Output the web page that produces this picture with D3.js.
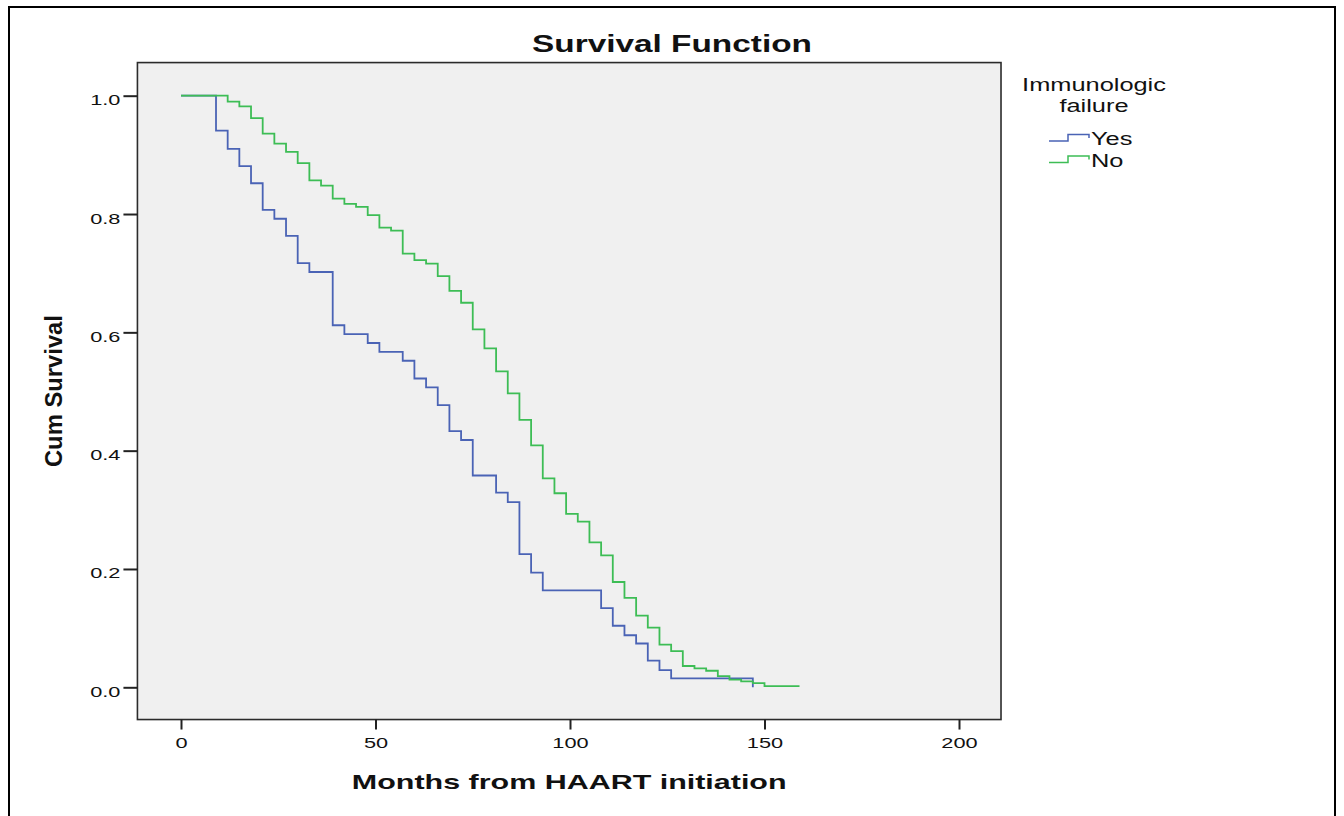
<html lang="en">
<head>
    <meta charset="UTF-8">
    <title>Survival Function</title>
    <script src="https://cdnjs.cloudflare.com/ajax/libs/d3/7.8.5/d3.min.js"></script>
    <style type="text/css">
        body { margin: 0; background: #ffffff; }
        text { font-family: "Liberation Sans", Arial, sans-serif; fill: #111; }
    </style>
</head>
<body>
    <div id="onlydiv"></div>
    <script type="text/javascript">

        // Kaplan-Meier steps (months, cum survival)
        var yesTime = [0, 9, 12, 15, 18, 21, 24, 27, 30, 33, 39, 42, 48, 51, 57, 60, 63, 66, 69, 72, 75, 81, 84, 87, 90, 93, 108, 111, 114, 117, 120, 123, 126, 147];
        var yesSurv = [1.0, 0.941, 0.910, 0.881, 0.852, 0.807, 0.792, 0.763, 0.717, 0.702, 0.612, 0.597, 0.582, 0.567, 0.552, 0.522, 0.507, 0.477, 0.433, 0.418, 0.358, 0.329, 0.313, 0.225, 0.194, 0.164, 0.134, 0.104, 0.088, 0.074, 0.045, 0.029, 0.015, 0.0];

        var noTime = [0, 12, 15, 18, 21, 24, 27, 30, 33, 36, 39, 42, 45, 48, 51, 54, 57, 60, 63, 66, 69, 72, 75, 78, 81, 84, 87, 90, 93, 96, 99, 102, 105, 108, 111, 114, 117, 120, 123, 126, 129, 132, 135, 138, 141, 144, 147, 150, 159];
        var noSurv = [1.0, 0.990, 0.982, 0.962, 0.936, 0.919, 0.905, 0.886, 0.857, 0.848, 0.826, 0.817, 0.812, 0.798, 0.777, 0.772, 0.733, 0.722, 0.716, 0.695, 0.670, 0.650, 0.605, 0.573, 0.534, 0.497, 0.452, 0.409, 0.353, 0.328, 0.293, 0.280, 0.245, 0.223, 0.178, 0.151, 0.121, 0.101, 0.072, 0.061, 0.036, 0.032, 0.028, 0.019, 0.013, 0.010, 0.007, 0.002, 0.002];

        var groups = ["Yes", "No"];
        var groupColors = ["#4a63b5", "#3dbd55"];
        var xTicks = [0, 50, 100, 150, 200];
        var yTicks = [0.0, 0.2, 0.4, 0.6, 0.8, 1.0];

        // Size variables
        var w = 1344;
        var h = 816;
        var SX = 1.45;   // the picture is stretched sideways, so is the text

        var svg = d3.select("#onlydiv")
        .append("svg")
        .attr("width", w)
        .attr("height", h);

        function stretch(sel) {
            sel.each(function() {
                var n = this.getComputedTextLength();
                d3.select(this)
                .attr("textLength", n * SX)
                .attr("lengthAdjust", "spacingAndGlyphs");
            });
        }

        // outer frame
        svg.append("rect")
        .attr("x", 9)
        .attr("y", 7)
        .attr("width", 1326)
        .attr("height", 830)
        .attr("fill", "none")
        .attr("stroke", "#000")
        .attr("stroke-width", 2);

        // scales
        var xScale = d3.scaleLinear()
        .domain([0, 200])
        .range([181, 959]);

        var yScale = d3.scaleLinear()
        .domain([0, 1])
        .range([687.3, 95.7]);

        var plotLeft = xScale(-11.2), plotRight = xScale(210.8);
        var plotTop = yScale(1.056), plotBottom = yScale(-0.0545);

        // plot background
        svg.append("rect")
        .attr("x", plotLeft)
        .attr("y", plotTop)
        .attr("width", plotRight - plotLeft)
        .attr("height", plotBottom - plotTop)
        .attr("fill", "#f0f0f0")
        .attr("stroke", "#2b2b2b")
        .attr("stroke-width", 1.6);

        // axes
        var yAxis = d3.axisLeft(yScale)
        .tickValues(yTicks)
        .tickFormat(d3.format(".1f"))
        .tickSize(14)
        .tickPadding(3);

        var xAxis = d3.axisBottom(xScale)
        .tickValues(xTicks)
        .tickSize(10)
        .tickPadding(8);

        var gy = svg.append("g")
        .attr("class", "axis")
        .attr("transform", "translate(" + plotLeft + ",0)")
        .call(yAxis);

        var gx = svg.append("g")
        .attr("class", "axis")
        .attr("transform", "translate(0," + plotBottom + ")")
        .call(xAxis);

        [gx, gy].forEach(function(g) {
            g.select(".domain").remove();
            g.selectAll(".tick line").attr("stroke", "#222").attr("stroke-width", 2);
            g.selectAll(".tick text")
            .attr("font-family", "Liberation Sans, Arial, sans-serif")
            .attr("font-size", 15)
            .attr("fill", "#222");
        });
        gy.selectAll(".tick text").attr("dy", "0.6em");
        stretch(gy.selectAll(".tick text"));
        stretch(gx.selectAll(".tick text"));

        // survival curves
        var line = d3.line()
        .x(function(d) { return xScale(d.t); })
        .y(function(d) { return yScale(d.s); })
        .curve(d3.curveStepAfter);

        var series = [
            yesTime.map(function(t, i) { return {t: t, s: yesSurv[i]}; }),
            noTime.map(function(t, i) { return {t: t, s: noSurv[i]}; })
        ];

        svg.selectAll("path.km")
        .data(series)
        .enter()
        .append("path")
        .attr("class", "km")
        .attr("d", line)
        .attr("fill", "none")
        .attr("stroke", function(d, i) { return groupColors[i]; })
        .attr("stroke-width", 1.8);

        // title and axis labels
        var title = svg.append("text")
        .attr("x", 672)
        .attr("y", 52)
        .attr("text-anchor", "middle")
        .attr("font-size", 23)
        .attr("font-weight", "bold")
        .text("Survival Function");
        stretch(title);

        var xLabel = svg.append("text")
        .attr("x", (plotLeft + plotRight) / 2)
        .attr("y", 789)
        .attr("text-anchor", "middle")
        .attr("font-size", 21)
        .attr("font-weight", "bold")
        .text("Months from HAART initiation");
        stretch(xLabel);

        svg.append("text")
        .attr("transform", "translate(62," + ((plotTop + plotBottom) / 2) + ") rotate(-90)")
        .attr("text-anchor", "middle")
        .attr("font-size", 23)
        .attr("font-weight", "bold")
        .attr("textLength", 152)
        .attr("lengthAdjust", "spacingAndGlyphs")
        .text("Cum Survival");

        // legend
        var legend = svg.append("g")
        .attr("transform", "translate(1049,0)");

        var lt = legend.append("text")
        .attr("x", 45)
        .attr("y", 91)
        .attr("text-anchor", "middle")
        .attr("font-size", 17.5)
        .text("Immunologic");
        stretch(lt);

        var lt2 = legend.append("text")
        .attr("x", 45)
        .attr("y", 112)
        .attr("text-anchor", "middle")
        .attr("font-size", 17.5)
        .text("failure");
        stretch(lt2);

        var item = legend.selectAll("g.item")
        .data(groups)
        .enter()
        .append("g")
        .attr("class", "item")
        .attr("transform", function(d, i) { return "translate(0," + (141 + i * 21.5) + ")"; });

        item.append("path")
        .attr("d", "M0,0 H19 V-6.5 H40 V-3")
        .attr("fill", "none")
        .attr("stroke", function(d, i) { return groupColors[i]; })
        .attr("stroke-width", 1.5);

        item.append("text")
        .attr("x", 42)
        .attr("y", 4)
        .attr("font-size", 17.5)
        .text(function(d) { return d; })
        .call(stretch);

    </script>
</body>
</html>
